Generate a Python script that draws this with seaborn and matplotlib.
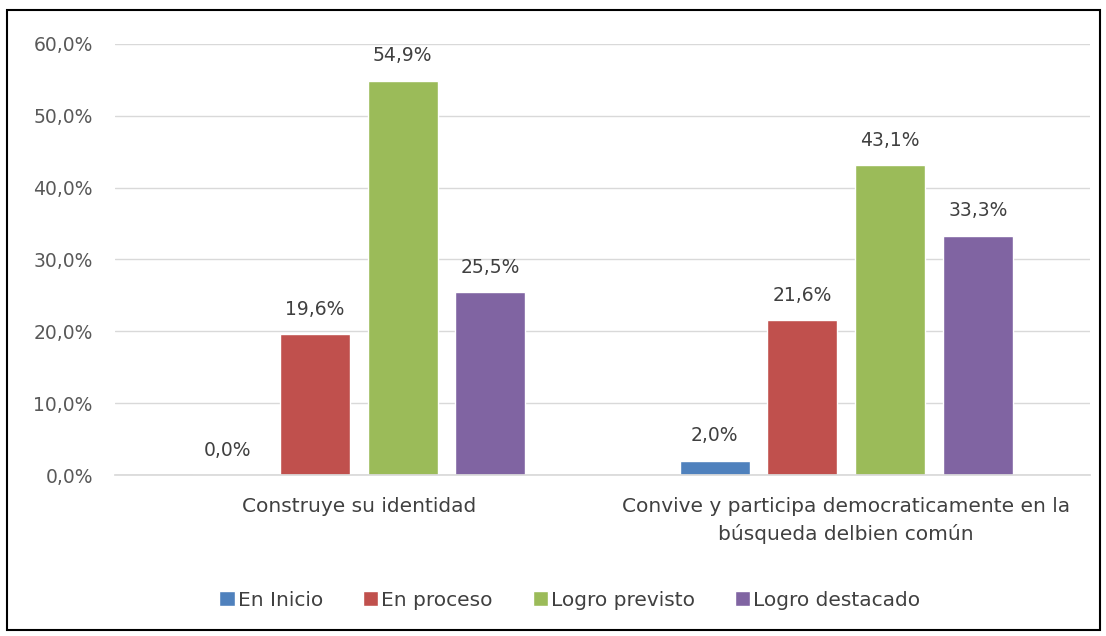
import matplotlib
matplotlib.use("Agg")
import matplotlib.pyplot as plt
import seaborn as sns
import pandas as pd
from matplotlib.patches import Rectangle

categories = ["Construye su identidad",
              "Convive y participa democraticamente en la\nbúsqueda delbien común"]
series = ["En Inicio", "En proceso", "Logro previsto", "Logro destacado"]
en_inicio = [0.0, 2.0]
en_proceso = [19.6, 21.6]
logro_previsto = [54.9, 43.1]
logro_destacado = [25.5, 33.3]
colors = ["#4F81BD", "#C0504D", "#9BBB59", "#8064A2"]
yticks = [0, 10, 20, 30, 40, 50, 60]

rows = []
for s, vals in zip(series, [en_inicio, en_proceso, logro_previsto, logro_destacado]):
    for c, v in zip(categories, vals):
        rows.append({"cat": c, "serie": s, "val": v})
df = pd.DataFrame(rows)

sns.set_theme(style="white")
plt.rcParams["font.family"] = ["DejaVu Sans"]

FS = 13.5
FSX = 14.5
fig = plt.figure(figsize=(11.06, 6.36), dpi=100)
ax = fig.add_axes([0.104, 0.253, 0.8815, 0.678])

sns.barplot(data=df, x="cat", y="val", hue="serie", hue_order=series,
            palette=colors, width=0.72, gap=0.2, ax=ax, legend=True,
            saturation=1, errorbar=None)

ax.set_ylim(0, 60)
ax.set_yticks(yticks)
ax.set_yticklabels([f"{t:.1f}%".replace(".", ",") for t in yticks],
                   color="#595959", fontsize=FS)
ax.tick_params(axis="x", colors="#404040", labelsize=FSX, length=0, pad=16)
for lbl in ax.get_xticklabels():
    lbl.set_linespacing(1.45)
ax.tick_params(axis="y", length=0, pad=16)
ax.set_xlabel("")
ax.set_ylabel("")
ax.grid(axis="y", color="#D9D9D9", linewidth=1)
ax.set_axisbelow(True)
for sp in ["top", "right", "left"]:
    ax.spines[sp].set_visible(False)
ax.spines["bottom"].set_color("#D9D9D9")

for cont in ax.containers:
    for bar in cont:
        h = bar.get_height()
        ax.annotate(f"{h:.1f}%".replace(".", ","),
                    (bar.get_x() + bar.get_width() / 2, h),
                    xytext=(0, 11), textcoords="offset points",
                    ha="center", va="bottom", fontsize=FS, color="#404040")

leg = ax.legend(loc="center", ncol=4, frameon=False, fontsize=FSX,
                handlelength=0.75, handleheight=0.75,
                columnspacing=2.0, handletextpad=0.15, labelcolor="#404040")
leg.set_bbox_to_anchor((570 / 1106, 1 - 600 / 636), transform=fig.transFigure)

fig.patches.append(Rectangle((7 / 1106, 1 - 630 / 636), 1093 / 1106, 620 / 636,
                             transform=fig.transFigure, fill=False,
                             edgecolor="black", linewidth=1.5))

fig.savefig("out.png", dpi=100, facecolor="white")
